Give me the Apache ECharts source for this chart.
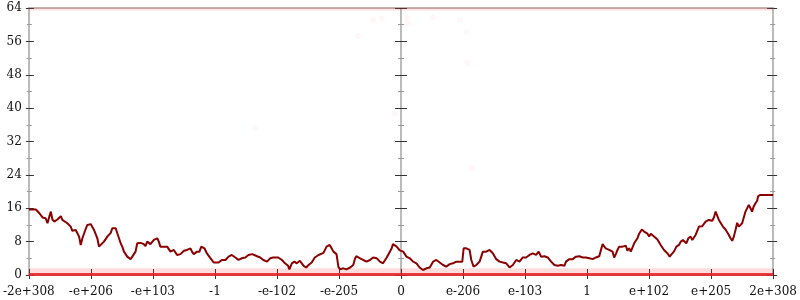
<!DOCTYPE html>
<html>
<head>
<meta charset="utf-8">
<script src="https://cdn.jsdelivr.net/npm/echarts@6/dist/echarts.min.js"></script>
<style>html,body{margin:0;padding:0;background:#fff;}#c{width:800px;height:300px;}</style>
</head>
<body>
<div id="c"></div>
<script>
// x tick labels (symmetric log-like double axis), positions -6..6
var xLabels = ['-2e+308', '-e+206', '-e+103', '-1', '-e-102', '-e-205', '0', 'e-206', 'e-103', '1', 'e+102', 'e+205', '2e+308'];
var yTicks = [0, 8, 16, 24, 32, 40, 48, 56, 64];

// main line: x positions (axis units) and values
var lineX = [
 -6.0,-5.887,-5.83,-5.78,-5.73,-5.70,-5.67,-5.646,-5.62,-5.59,-5.54,-5.485,-5.46,-5.38,-5.325,-5.30,-5.244,-5.19,-5.164,-5.137,
 -5.08,-5.057,-5.03,-5.003,-4.95,-4.896,-4.87,-4.84,-4.79,-4.735,-4.68,-4.655,-4.60,-4.574,-4.52,-4.494,-4.467,-4.414,-4.36,-4.333,
 -4.28,-4.253,-4.20,-4.146,-4.12,-4.092,-4.04,-3.985,-3.93,-3.905,-3.88,-3.77,-3.717,-3.663,-3.61,-3.556,-3.50,-3.45,-3.395,-3.37,
 -3.342,-3.288,-3.25,-3.22,-3.17,-3.13,-3.07,-3.02,-2.94,-2.89,-2.86,-2.83,-2.78,-2.73,-2.67,-2.62,-2.57,-2.51,-2.46,-2.40,
 -2.37,-2.32,-2.27,-2.22,-2.16,-2.11,-2.06,-2.03,-1.98,-1.92,-1.87,-1.82,-1.80,-1.76,-1.72,-1.68,-1.63,-1.57,-1.53,-1.49,
 -1.44,-1.39,-1.33,-1.25,-1.20,-1.17,-1.15,-1.12,-1.09,-1.07,-1.04,-1.01,-0.985,-0.93,-0.88,-0.82,-0.77,-0.74,-0.72,-0.66,
 -0.61,-0.555,-0.50,-0.45,-0.39,-0.34,-0.29,-0.23,-0.15,-0.13,-0.07,-0.02,0.035,0.088,0.142,0.195,0.249,0.30,0.356,0.41,
 0.463,0.517,0.54,0.57,0.624,0.678,0.73,0.785,0.838,0.892,0.946,0.988,1.01,1.053,1.106,1.133,1.17,1.214,1.267,1.32,
 1.374,1.428,1.48,1.535,1.588,1.642,1.696,1.75,1.803,1.857,1.91,1.964,2.017,2.071,2.125,2.178,2.22,2.258,2.312,2.366,
 2.42,2.473,2.527,2.58,2.634,2.66,2.714,2.768,2.821,2.875,2.93,2.982,3.036,3.09,3.143,3.196,3.25,3.276,3.30,3.357,
 3.41,3.437,3.464,3.49,3.517,3.57,3.625,3.65,3.678,3.705,3.732,3.759,3.785,3.812,3.839,3.882,3.92,3.973,4.0,4.027,
 4.08,4.134,4.187,4.24,4.295,4.332,4.364,4.40,4.44,4.482,4.51,4.546,4.60,4.632,4.67,4.696,4.75,4.804,4.857,4.911,
 4.964,5.018,5.045,5.072,5.098,5.125,5.152,5.19,5.232,5.26,5.286,5.313,5.34,5.366,5.393,5.42,5.447,5.474,5.50,5.554,
 5.58,5.607,5.634,5.66,5.688,5.715,5.742,5.758,5.795,6.0
];
var lineY = [
 15.7,15.7,14.8,13.8,13.6,12.4,14.0,15.2,13.3,12.8,13.3,14.1,13.2,12.4,11.6,10.6,10.8,9.2,7.2,8.8,
 11.2,12.0,11.6,12.2,10.8,8.8,6.8,6.4,8.0,9.2,10.1,11.2,11.2,10.0,7.6,6.8,5.6,4.4,3.8,4.4,
 5.6,7.6,7.7,7.4,6.9,8.0,7.4,8.4,8.8,8.0,6.8,6.8,5.6,6.0,4.8,5.0,5.8,6.0,6.4,5.6,
 5.0,5.6,5.6,6.8,6.4,5.2,4.0,3.0,3.0,3.6,4.0,3.6,4.4,4.8,4.2,3.6,4.0,4.2,4.8,5.0,
 5.3,4.5,4.2,3.6,3.2,4.0,4.2,4.5,4.2,3.6,2.8,2.2,1.35,2.8,3.2,2.8,3.4,2.2,1.8,2.4,
 3.0,4.2,4.8,5.3,6.8,7.2,7.2,6.4,5.6,6.0,5.0,2.0,1.35,1.6,1.35,1.8,2.4,4.0,4.5,4.0,
 3.6,3.2,3.6,4.2,4.0,3.2,2.8,4.2,6.4,7.4,6.8,5.9,5.6,4.4,4.0,3.2,2.8,1.8,1.2,1.6,
 1.8,3.2,3.0,3.6,3.0,2.4,2.0,2.6,2.8,3.2,3.2,3.2,6.4,6.4,6.0,3.6,2.0,2.4,3.2,5.6,
 5.6,6.0,5.2,3.8,3.2,3.0,2.8,1.8,2.4,3.6,3.2,4.2,4.2,4.8,5.2,4.8,5.6,4.4,4.5,4.2,
 3.2,2.4,2.2,2.4,2.2,3.2,3.8,3.8,4.4,4.5,4.2,4.2,4.0,3.8,4.2,4.5,7.4,7.6,6.4,6.0,
 5.6,4.2,5.0,6.0,6.8,6.8,7.0,5.8,6.4,5.6,5.8,7.6,8.0,8.8,9.9,10.9,10.4,9.9,9.2,9.9,
 9.2,8.5,7.2,6.0,5.2,4.4,5.0,5.6,6.8,7.2,8.0,8.4,7.6,8.8,9.2,8.4,9.6,11.6,11.7,12.8,
 13.2,13.0,13.8,15.2,14.9,13.2,12.8,11.6,10.9,10.8,9.6,8.8,8.2,9.2,10.8,12.5,11.6,12.0,12.4,15.2,
 15.6,16.8,16.0,15.2,16.5,17.2,17.8,18.9,19.2,19.2
];

// faint overlapping point bands (ends of each band)
var bandX = [-6, 6];
var zeroBandY = [0.12, 0.12];
var lowBandY = [0.9, 0.9];
var topBandY = [63.75, 63.75];

// a few faint isolated points
var outX = [-0.45, -0.31, -0.69, 0.11, 0.09, 0.51, 0.95, 1.06, 1.07, -0.1, 1.14, -2.35];
var outY = [61.1, 61.5, 57.2, 60.4, 61.8, 61.8, 61.1, 58.2, 50.8, 38.8, 25.6, 35.2];

function pairs(xs, ys) { return xs.map(function (x, i) { return [x, ys[i]]; }); }

var FONT = 'DejaVu Serif';
var AXIS_GRAY = '#bbbbbb';

function yAxis(opts) {
  var base = {
    type: 'value', min: 0, max: 64, interval: 8,
    splitLine: { show: false },
    axisLine: { show: opts.line, onZero: opts.onZero, lineStyle: { color: AXIS_GRAY, width: 2 } },
    axisTick: { show: true, inside: opts.inside, length: opts.len, lineStyle: { color: '#333', width: 1 } },
    minorTick: { show: true, splitNumber: 2, length: opts.minLen, lineStyle: { color: '#999', width: 1 } },
    axisLabel: { show: !!opts.label, fontFamily: FONT, fontSize: 12, color: '#111', margin: 7 },
    position: opts.position
  };
  if (opts.onZero) base.axisLine.onZeroAxisIndex = 0;
  return base;
}

var chart = echarts.init(document.getElementById('c'), null, { renderer: 'canvas' });
chart.setOption({
  animation: false,
  backgroundColor: '#fff',
  grid: { left: 28, right: 25, top: 8, bottom: 25, containLabel: false },
  xAxis: [
    {
      type: 'value', min: -6, max: 6, interval: 1, position: 'bottom',
      splitLine: { show: false },
      axisLine: { show: true, onZero: false, lineStyle: { color: AXIS_GRAY, width: 2 } },
      axisTick: { show: true, inside: false, length: 4, lineStyle: { color: '#333' } },
      axisLabel: { fontFamily: FONT, fontSize: 12, color: '#111', margin: 11,
        formatter: function (v) { return xLabels[Math.round(v) + 6]; } }
    },
    {
      type: 'value', min: -6, max: 6, interval: 1, position: 'bottom',
      splitLine: { show: false },
      axisLine: { show: false, onZero: false },
      axisTick: { show: true, inside: true, length: 6, lineStyle: { color: '#333' } },
      axisLabel: { show: false }
    },
    {
      type: 'value', min: -6, max: 6, interval: 1, position: 'top',
      splitLine: { show: false },
      axisLine: { show: true, onZero: false, lineStyle: { color: AXIS_GRAY, width: 2 } },
      axisTick: { show: false }, axisLabel: { show: false }
    }
  ],
  yAxis: [
    yAxis({ position: 'left', onZero: false, line: true, inside: false, len: 3, minLen: 2, label: true }),
    yAxis({ position: 'left', onZero: false, line: false, inside: true, len: 5, minLen: 3 }),
    yAxis({ position: 'right', onZero: false, line: true, inside: false, len: 4, minLen: 2 }),
    yAxis({ position: 'right', onZero: false, line: false, inside: true, len: 6, minLen: 3 }),
    yAxis({ position: 'left', onZero: true, line: true, inside: false, len: 6, minLen: 3 }),
    yAxis({ position: 'left', onZero: true, line: false, inside: true, len: 6, minLen: 3 })
  ],
  series: [
    { type: 'line', xAxisIndex: 0, yAxisIndex: 0, data: pairs(bandX, lowBandY), symbol: 'none', silent: true,
      lineStyle: { color: 'rgba(255,40,40,0.16)', width: 6 }, z: 3 },
    { type: 'line', xAxisIndex: 0, yAxisIndex: 0, data: pairs(bandX, topBandY), symbol: 'none', silent: true,
      lineStyle: { color: 'rgba(255,40,40,0.15)', width: 3 }, z: 3 },
    { type: 'scatter', xAxisIndex: 0, yAxisIndex: 0, data: pairs(outX, outY), symbolSize: 6, silent: true,
      itemStyle: { color: 'rgba(255,40,40,0.045)' }, z: 3 },
    { type: 'line', xAxisIndex: 0, yAxisIndex: 0, data: pairs(bandX, zeroBandY), symbol: 'none', silent: true,
      lineStyle: { color: 'rgba(230,30,40,0.85)', width: 3 }, z: 4 },
    { type: 'line', xAxisIndex: 0, yAxisIndex: 0, data: pairs(lineX, lineY), symbol: 'none', silent: true,
      lineStyle: { color: '#8b0000', width: 2 }, z: 5 }
  ]
});
</script>
</body>
</html>
